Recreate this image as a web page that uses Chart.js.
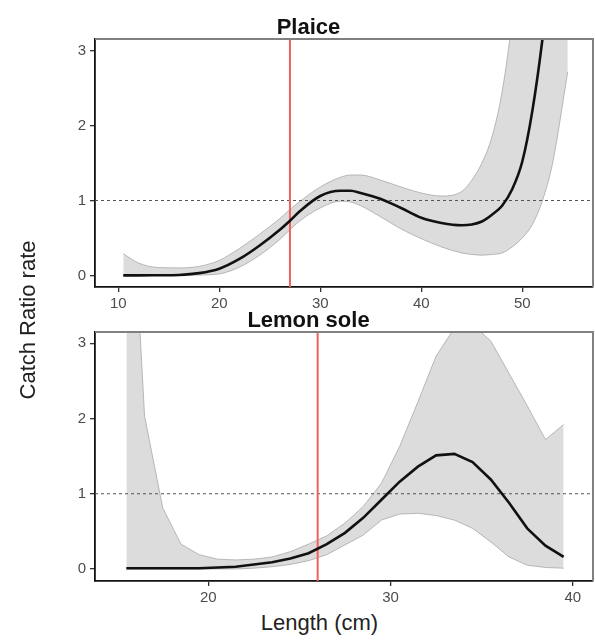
<!DOCTYPE html>
<html>
<head>
<meta charset="utf-8">
<script src="https://cdn.jsdelivr.net/npm/chart.js@4.4.1/dist/chart.umd.min.js"></script>
<style>
  html, body { margin: 0; padding: 0; background: #fff; overflow: hidden; }
  body { width: 595px; height: 641px; position: relative; font-family: "Liberation Sans", Arial, sans-serif; }
  canvas { position: absolute; left: 0; }
  .t { position: absolute; white-space: nowrap; text-align: center; }
  .ptitle { font-weight: bold; font-size: 22px; line-height: 22px; color: #111; left: 0; width: 617px; }
  .atitle { font-size: 22px; line-height: 22px; color: #222; }
</style>
</head>
<body>
<canvas id="plaice" width="595" height="310" style="top:0px"></canvas>
<canvas id="sole" width="595" height="300" style="top:310px"></canvas>
<div class="t ptitle" style="top:16.4px">Plaice</div>
<div class="t ptitle" style="top:309.4px">Lemon sole</div>
<div class="t atitle" style="left:-122.5px; width:300px; top:309px; transform:rotate(-90deg); transform-origin:50% 50%;">Catch Ratio rate</div>
<div class="t atitle" style="left:119.5px; width:400px; top:611.5px;">Length (cm)</div>
<script>
// ---------- data ----------
const plaiceLength = [10.5, 12, 14, 16, 18, 20, 22, 24, 26, 27, 28, 30, 32, 33, 34, 36, 38, 40, 42, 44, 45, 46, 47, 48, 49, 50, 51, 52, 53, 54.5];
const plaiceRate   = [0, 0, 0.002, 0.006, 0.03, 0.09, 0.22, 0.40, 0.61, 0.73, 0.86, 1.06, 1.13, 1.13, 1.10, 1.02, 0.90, 0.77, 0.70, 0.67, 0.68, 0.72, 0.81, 0.93, 1.15, 1.52, 2.2, 3.16, 4.4, 6.8];
const plaiceUpper  = [0.29, 0.165, 0.105, 0.10, 0.12, 0.20, 0.36, 0.55, 0.76, 0.88, 0.99, 1.18, 1.31, 1.34, 1.34, 1.27, 1.18, 1.10, 1.06, 1.12, 1.27, 1.5, 1.85, 2.45, 3.4, 4.6, 6, 8, 10.5, 14];
const plaiceLower  = [0, 0, 0, 0, 0.005, 0.02, 0.11, 0.27, 0.48, 0.61, 0.73, 0.90, 0.99, 0.98, 0.93, 0.78, 0.62, 0.49, 0.38, 0.30, 0.28, 0.27, 0.28, 0.30, 0.38, 0.50, 0.68, 1.0, 1.5, 2.72];
const plaiceL50 = 27;
const plaiceTicksX = [10, 20, 30, 40, 50];

const soleLength = [15.5, 16.5, 17.5, 18.5, 19.5, 20.5, 21.5, 22.5, 23.5, 24.5, 25.5, 26.5, 27.5, 28.5, 29.5, 30.5, 31.5, 32.5, 33.5, 34.5, 35.5, 36.5, 37.5, 38.5, 39.5];
const soleRate   = [0.01, 0.01, 0.01, 0.01, 0.01, 0.02, 0.03, 0.06, 0.09, 0.14, 0.21, 0.33, 0.48, 0.68, 0.92, 1.16, 1.36, 1.51, 1.53, 1.42, 1.19, 0.88, 0.54, 0.31, 0.16];
const soleUpper  = [6.5, 2.03, 0.81, 0.33, 0.19, 0.13, 0.12, 0.13, 0.16, 0.23, 0.33, 0.44, 0.61, 0.83, 1.14, 1.63, 2.22, 2.83, 3.2, 3.25, 3.03, 2.6, 2.17, 1.72, 1.92];
const soleLower  = [0, 0, 0, 0, 0, 0, 0, 0.01, 0.03, 0.06, 0.11, 0.19, 0.32, 0.45, 0.65, 0.73, 0.74, 0.71, 0.65, 0.54, 0.36, 0.16, 0.05, 0.02, 0.01];
const soleL50 = 26;
const soleTicksX = [20, 30, 40];

const rateTicks = [0, 1, 2, 3];
const refRate = 1;

// ---------- drawing ----------
const pts = (xs, ys) => xs.map((x, i) => ({ x: x, y: ys[i] }));

const frame = {
  id: 'frame',
  afterDraw(chart) {
    const a = chart.chartArea, c = chart.ctx;
    c.save();
    c.strokeStyle = '#808080';
    c.lineWidth = 2;
    c.beginPath();
    c.moveTo(a.left, a.top);
    c.lineTo(a.right, a.top);
    c.lineTo(a.right, a.bottom);
    c.stroke();
    c.restore();
  }
};

function panel(id, xs, rate, upper, lower, l50, xTicks, xmin, xmax, ymin, ymax, padTop, xAxisH, smooth) {
  const interp = smooth ? 'monotone' : 'default';
  const tickFont = { family: 'Liberation Sans', size: 15 };
  new Chart(document.getElementById(id), {
    type: 'line',
    data: {
      datasets: [
        { data: pts(xs, upper), borderColor: '#a8a8a8', borderWidth: 0.8, backgroundColor: '#dcdcdc',
          fill: '+1', pointRadius: 0, cubicInterpolationMode: interp, tension: 0, order: 4 },
        { data: pts(xs, lower), borderColor: '#a8a8a8', borderWidth: 0.8, fill: false,
          pointRadius: 0, cubicInterpolationMode: interp, tension: 0, order: 3 },
        { data: [{ x: xmin, y: refRate }, { x: xmax, y: refRate }], borderColor: '#555', borderWidth: 1,
          borderDash: [3, 3], fill: false, pointRadius: 0, order: 2 },
        { data: [{ x: l50, y: ymin - 1 }, { x: l50, y: ymax + 1 }], borderColor: '#f0605f', borderWidth: 2,
          fill: false, pointRadius: 0, order: 1 },
        { data: pts(xs, rate), borderColor: '#111', borderWidth: 2.6, fill: false, pointRadius: 0,
          cubicInterpolationMode: interp, tension: 0, order: 0 }
      ]
    },
    options: {
      responsive: false,
      animation: false,
      events: [],
      layout: { padding: { top: padTop, right: 2, bottom: 0, left: 0 } },
      plugins: { legend: { display: false }, tooltip: { enabled: false }, title: { display: false } },
      scales: {
        x: {
          type: 'linear', min: xmin, max: xmax,
          afterBuildTicks: s => { s.ticks = xTicks.map(v => ({ value: v })); },
          afterFit: s => { s.height = xAxisH; },
          ticks: { font: tickFont, color: '#4d4d4d', padding: 3, maxRotation: 0, autoSkip: false },
          grid: { drawOnChartArea: false, drawTicks: true, tickLength: 5, color: '#333', lineWidth: 1.3 },
          border: { color: '#111', width: 1.8 }
        },
        y: {
          type: 'linear', min: ymin, max: ymax,
          afterBuildTicks: s => { s.ticks = rateTicks.map(v => ({ value: v })); },
          afterFit: s => { s.width = 95; },
          ticks: { font: tickFont, color: '#4d4d4d', padding: 4, autoSkip: false },
          grid: { drawOnChartArea: false, drawTicks: true, tickLength: 5, color: '#333', lineWidth: 1.3 },
          border: { color: '#111', width: 1.8 }
        }
      }
    },
    plugins: [frame]
  });
}

panel('plaice', plaiceLength, plaiceRate, plaiceUpper, plaiceLower, plaiceL50, plaiceTicksX,
      7.7, 57.0, -0.155, 3.156, 39, 23, true);
panel('sole', soleLength, soleRate, soleUpper, soleLower, soleL50, soleTicksX,
      13.78, 41.11, -0.16, 3.15, 22, 29, false);
</script>
</body>
</html>
